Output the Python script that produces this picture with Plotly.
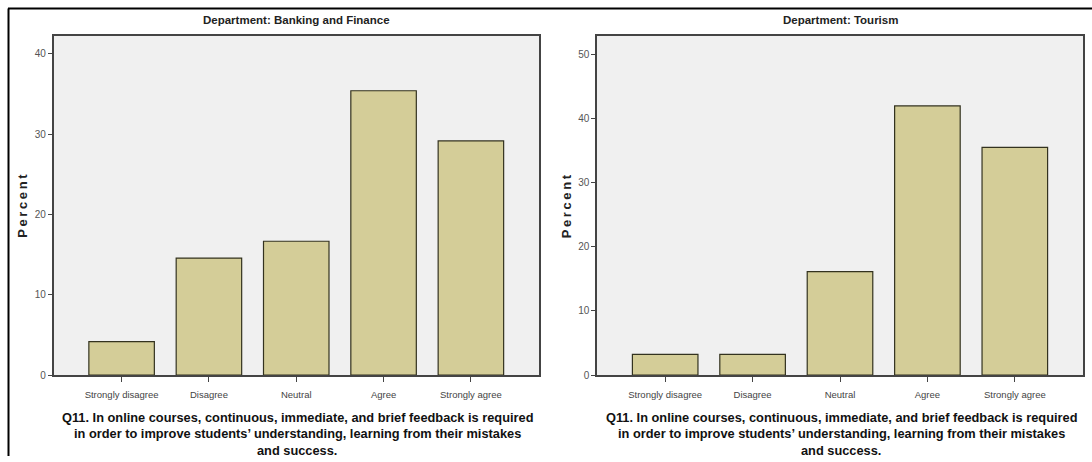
import plotly.graph_objects as go

categories = ["Strongly disagree", "Disagree", "Neutral", "Agree", "Strongly agree"]
banking_pct = [4.17, 14.58, 16.67, 35.42, 29.17]
tourism_pct = [3.23, 3.23, 16.13, 41.94, 35.48]
panel_titles = ["Department: Banking and Finance", "Department: Tourism"]
y_title = "P\u2009e\u2009r\u2009c\u2009e\u2009n\u2009t"
x_title_lines = ["Q11. In online courses, continuous, immediate, and brief feedback is required",
                 "in order to improve students\u2019 understanding, learning from their mistakes",
                 "and success."]

W, H = 1092, 462
FONT = "Liberation Sans, Arial, sans-serif"

def px(x):
    return x / W

def py(y):
    return 1 - y / H

fig = go.Figure()
bar_style = dict(marker=dict(color="#d4cd98", line=dict(color="#33321f", width=1.2)),
                 showlegend=False, hoverinfo="x+y")
fig.add_trace(go.Bar(x=categories, y=banking_pct, xaxis="x", yaxis="y", **bar_style))
fig.add_trace(go.Bar(x=categories, y=tourism_pct, xaxis="x2", yaxis="y2", **bar_style))

panels = [(53.5, 539, 42.3), (597, 1083, 52.9)]
axis_common = dict(showline=True, linecolor="#444444", linewidth=1.5, mirror=True,
                   ticks="outside", tickcolor="#444444", showgrid=False, zeroline=False)

layout = dict(width=W, height=H, margin=dict(l=0, r=0, t=0, b=0),
              paper_bgcolor="white", plot_bgcolor="#f0f0f0", bargap=0.25,
              annotations=[], shapes=[])
line_ys = [423, 439.5, 456]
for i, (x0, x1, ymax) in enumerate(panels):
    sfx = "" if i == 0 else str(i + 1)
    layout["xaxis" + sfx] = dict(domain=[px(x0), px(x1)], anchor="y" + sfx,
                                 range=[-0.78, 4.78], ticklen=5, ticklabelstandoff=5,
                                 tickfont=dict(family=FONT, size=9.5, color="#444444"),
                                 **axis_common)
    layout["yaxis" + sfx] = dict(domain=[py(380), py(36)], anchor="x" + sfx,
                                 range=[0, ymax], dtick=10, ticklen=4,
                                 tickfont=dict(family=FONT, size=10, color="#555555"),
                                 **axis_common)
    cx = (x0 + x1) / 2
    layout["annotations"].append(dict(text="<b>" + panel_titles[i] + "</b>", x=px(cx), y=py(20.5),
                                      xref="paper", yref="paper", showarrow=False,
                                      xanchor="center", yanchor="middle",
                                      font=dict(family=FONT, size=11.5, color="#222222")))
    layout["annotations"].append(dict(text="<b>" + y_title + "</b>", x=px(x0 - 31), y=py(209),
                                      xref="paper", yref="paper", showarrow=False, textangle=-90,
                                      xanchor="center", yanchor="middle",
                                      font=dict(family=FONT, size=13, color="#222222")))
    for line, ly in zip(x_title_lines, line_ys):
        layout["annotations"].append(dict(text="<b>" + line + "</b>", x=px(cx + 1), y=py(ly),
                                          xref="paper", yref="paper", showarrow=False,
                                          xanchor="center", yanchor="middle",
                                          font=dict(family=FONT, size=12.8, color="#111111")))

layout["shapes"].append(dict(type="line", xref="paper", yref="paper",
                             x0=px(8), x1=1, y0=py(8.5), y1=py(8.5),
                             line=dict(color="black", width=2)))
layout["shapes"].append(dict(type="line", xref="paper", yref="paper",
                             x0=px(8.5), x1=px(8.5), y0=0, y1=py(8.5),
                             line=dict(color="black", width=2)))

fig.update_layout(**layout)
fig.write_html("out.html", config={"displayModeBar": False},
               post_script="document.body.style.margin='0';")
